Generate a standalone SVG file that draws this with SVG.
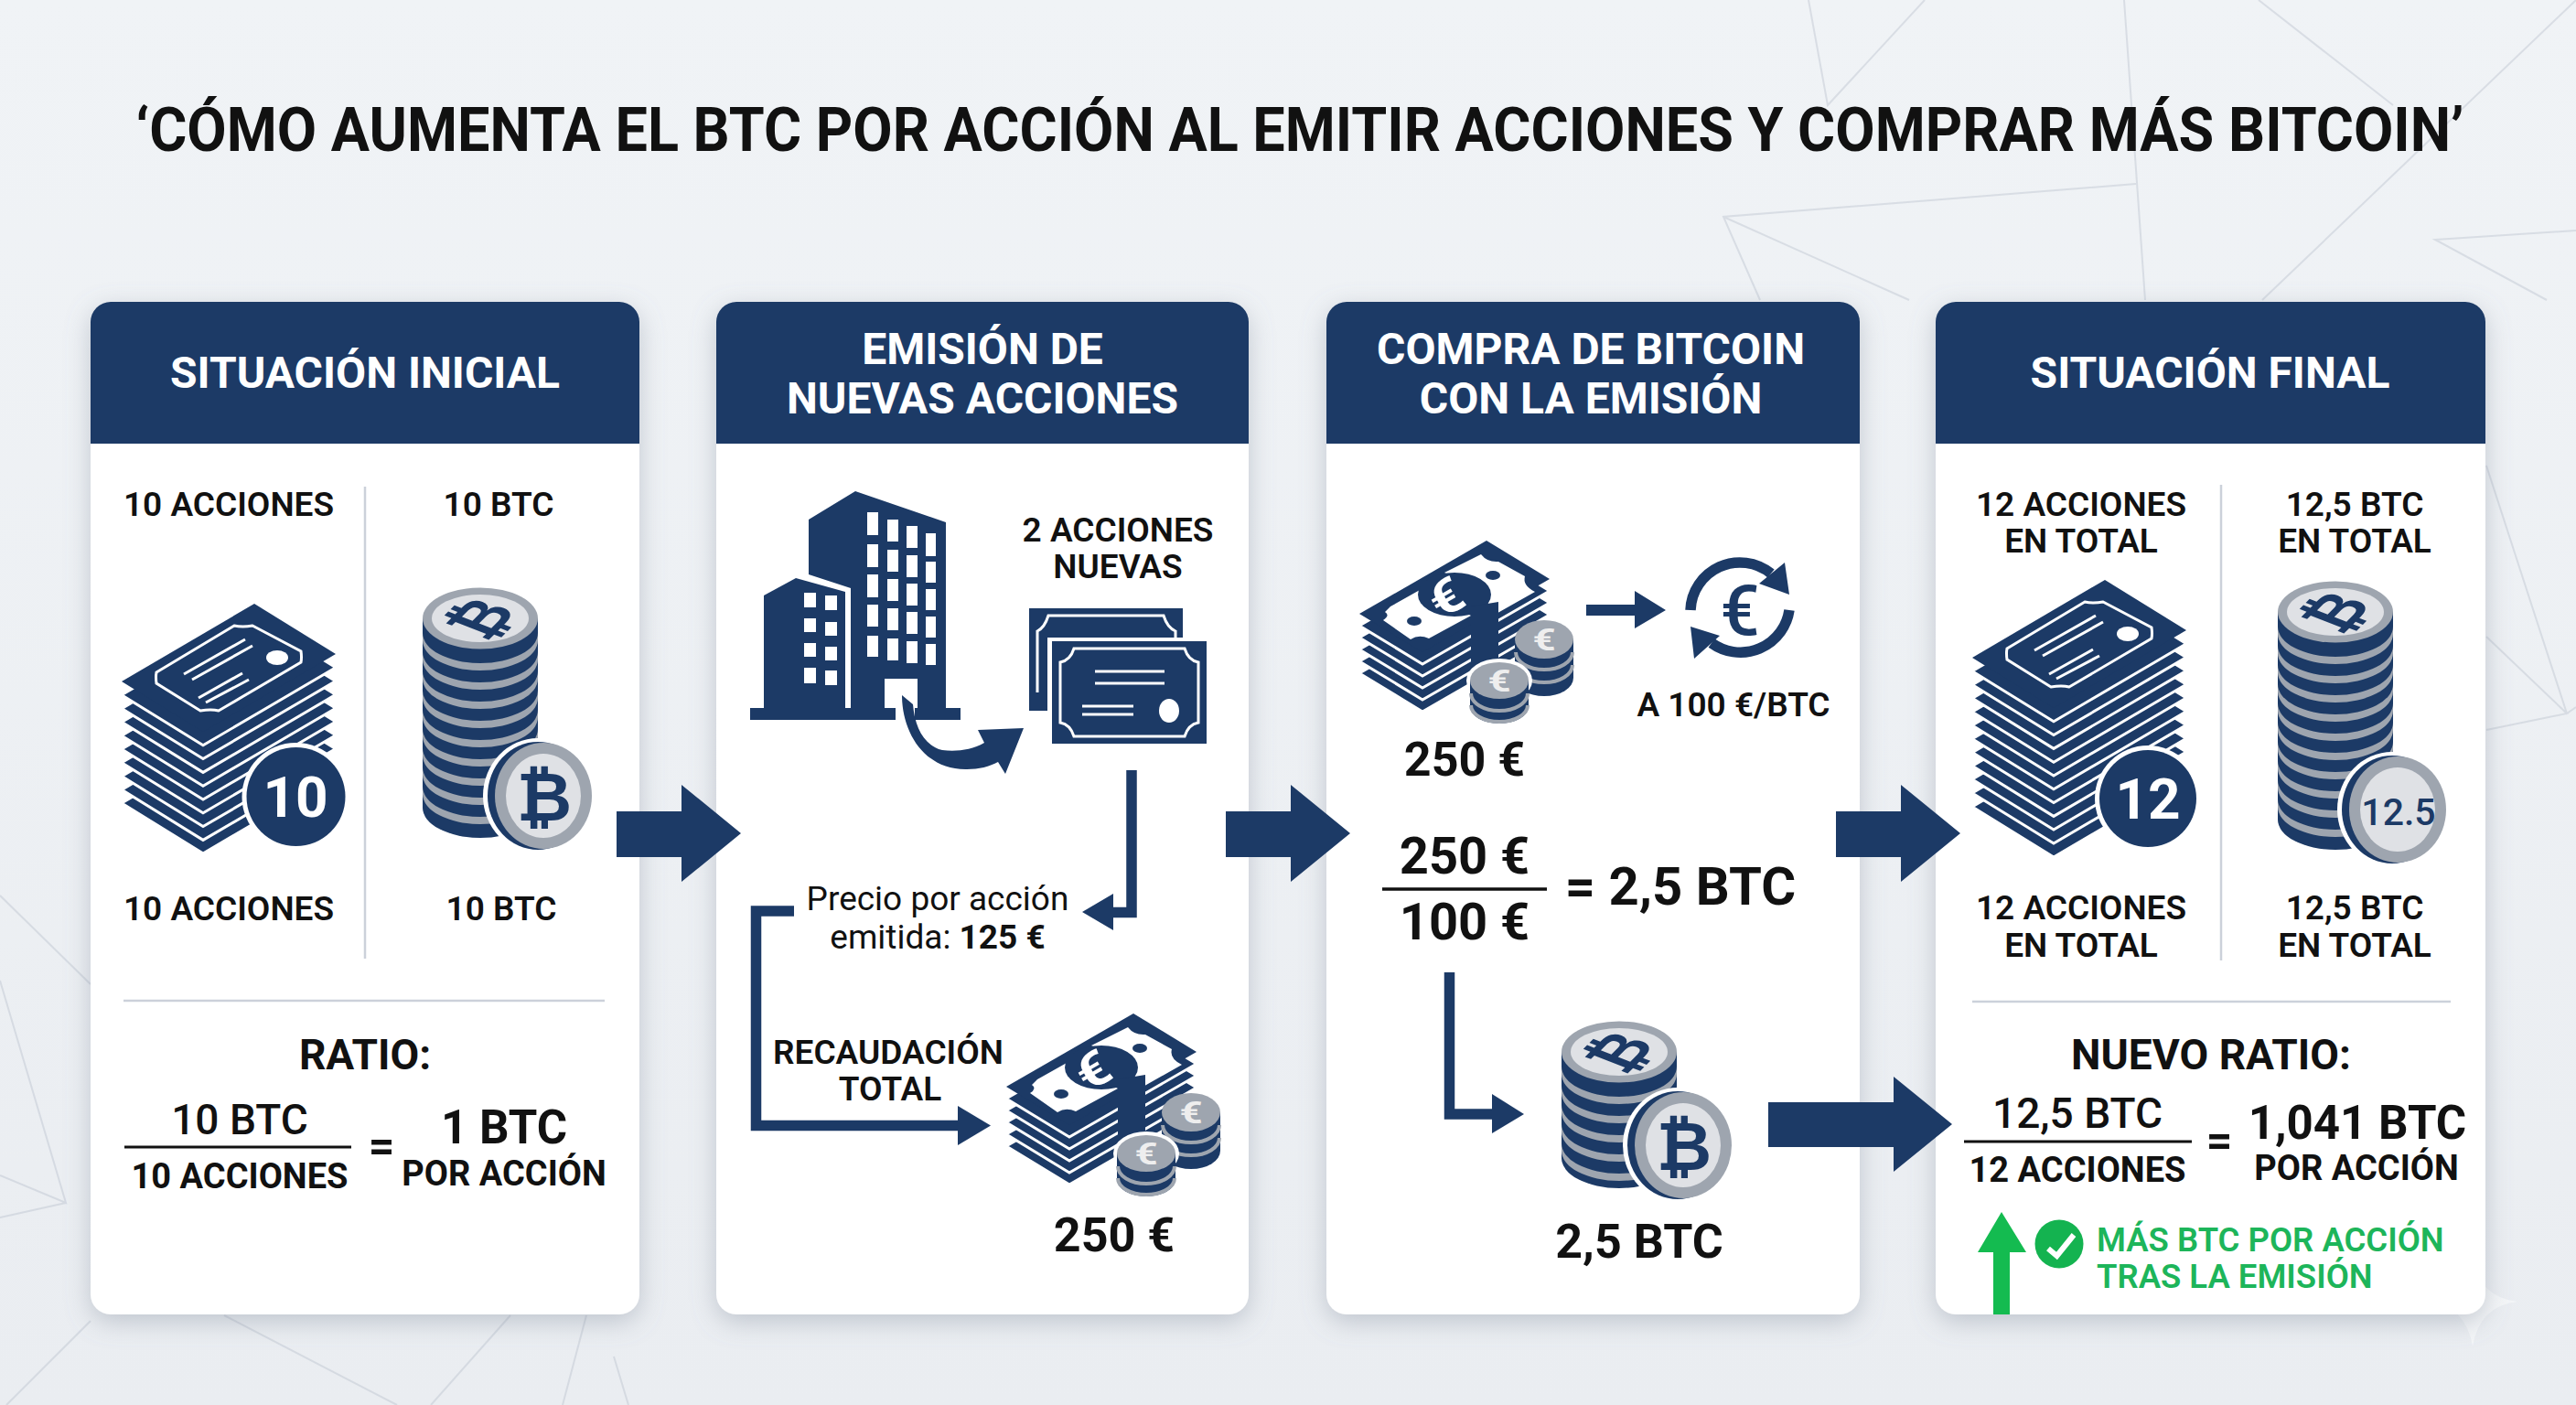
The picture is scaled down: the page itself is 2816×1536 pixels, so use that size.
<svg xmlns="http://www.w3.org/2000/svg" xmlns:xlink="http://www.w3.org/1999/xlink" width="2816" height="1536" viewBox="0 0 2816 1536" font-weight="700">
<style>
text{font-family:Roboto,"Liberation Sans",sans-serif;fill:#111;text-anchor:middle}
.hd{fill:#fff;font-size:48px;font-weight:700}
.lb{font-size:37px;font-weight:600}
.n{fill:#1c3a66}
.w{fill:#fff}
.sheet{fill:#1c3a66;stroke:#fff;stroke-width:3}
.gl{stroke:#b3bbc7;stroke-width:2;fill:none}
.div{stroke:#ccd1da;stroke-width:2.5}
.arc{fill:#9ea5af}
.wl{stroke:#fff;fill:none;stroke-width:3}
.ln{stroke:#1c3a66;fill:none;stroke-width:11.5}
.btc{font-family:"DejaVu Sans",sans-serif;fill:#1c3a66;font-weight:700}
.green{fill:#1db55a;text-anchor:start;font-size:36.5px;font-weight:600}
</style>
<defs>
<linearGradient id="bgg" x1="0" y1="0" x2="0" y2="1"><stop offset="0" stop-color="#f0f3f6"/><stop offset="1" stop-color="#eaedf1"/></linearGradient>
<filter id="sh" x="-10%" y="-5%" width="120%" height="112%"><feDropShadow dx="0" dy="8" stdDeviation="14" flood-color="#7d8797" flood-opacity=".4"/></filter>
<polygon id="sheet" class="sheet" points="133,745 278,660 367,715 222,800"/>
<g id="certtop">
<polygon class="n" points="133,745 278,660 367,715 222,800"/>
<path class="wl" d="M171,735L256,684Q265,686 276,684L329,712Q330,719 329,724L239,777Q231,775 219,777L171,747Q170,740 171,735Z"/>
<path class="wl" d="M201,737L268,699M210,743L276,706M217,763L265,736M225,768L272,743"/>
<ellipse class="w" cx="303" cy="719" rx="12" ry="8"/>
</g>
<g id="coinfront">
<ellipse class="w" cx="-2" cy="0" rx="60" ry="63"/>
<ellipse class="n" cx="-2" cy="0" rx="55" ry="59"/>
<ellipse cx="4" cy="0" rx="53" ry="58" fill="#9ea5af"/>
<ellipse cx="4" cy="0" rx="41" ry="46" fill="#dfe1e5"/>
</g>
<path id="arc" class="arc" d="M-63 -4a63 33 0 0 0 126 0v8a63 33 0 0 1 -126 0Z"/>
<ellipse id="cointop" cx="0" cy="0" rx="63" ry="33.5" fill="#9ea5af"/>
<ellipse id="cointopin" cx="0" cy="0" rx="53" ry="26" fill="#dfe1e5"/>
<polygon id="bill" class="sheet" points="1100,1188 1239,1108 1308,1150 1169,1230"/>
<g id="cash">
<use xlink:href="#bill" y="65"/><use xlink:href="#bill" y="52"/><use xlink:href="#bill" y="39"/><use xlink:href="#bill" y="26"/><use xlink:href="#bill" y="13"/>
<polygon class="n" points="1100,1188 1239,1108 1308,1150 1169,1230"/>
<path class="w" d="M1134,1180L1166,1162L1222,1190L1176,1215Q1165,1210 1156,1216L1126,1195Q1134,1190 1128,1186Z"/>
<path class="w" d="M1193,1143L1233,1123Q1240,1132 1252,1131L1281,1147Q1278,1157 1292,1164L1246,1190Q1238,1165 1220,1155Z"/>
<ellipse class="n" cx="1160" cy="1196" rx="8" ry="5"/><ellipse class="n" cx="1246" cy="1146" rx="8" ry="5"/>
<ellipse class="n" cx="1204" cy="1167" rx="40" ry="24"/>
<polygon class="n" points="1222,1180 1252,1175 1252,1245 1222,1262"/>
<text transform="translate(1204,1186) rotate(-30) scale(1,.85)" font-size="62" style="fill:#fff">€</text>
<g transform="translate(1302,1216)"><path class="n" d="M-32 0V42a32 20 0 0 0 64 0V0Z"/><path d="M-31 14a31 19 0 0 0 62 0M-31 28a31 19 0 0 0 62 0" fill="none" stroke="#9ea5af" stroke-width="4"/><ellipse rx="32" ry="21" fill="#9ea5af"/><text transform="translate(0,12) scale(1,.75)" font-size="44" style="fill:#eee">€</text></g>
<g transform="translate(1253,1261)"><ellipse rx="36" ry="24" class="w"/><path class="n" d="M-32 0V28a32 19 0 0 0 64 0V0Z"/><path d="M-31 14a31 19 0 0 0 62 0M-31 27a31 18 0 0 0 62 0" fill="none" stroke="#9ea5af" stroke-width="4"/><ellipse rx="32" ry="20" fill="#9ea5af"/><text transform="translate(0,12) scale(1,.75)" font-size="44" style="fill:#eee">€</text></g>
</g>
<polygon id="bigarrow" class="n" points="674,887 745,887 745,858 810,911 745,964 745,937 674,937"/>
</defs>

<g id="background">
<rect width="2816" height="1536" fill="url(#bgg)"/>
<path class="gl" opacity=".38" d="M1977,0L1998,115L2104,0M2322,0L2345,328M2469,0L2616,115M2816,0L2473,328M2335,201L1884,237L1924,328M1884,237L2087,328M2816,252L2662,262L2784,328M0,979L99,1076M0,1072L72,1315L0,1285M72,1315L0,1331M99,1444L7,1536M245,1438L434,1536M558,1438L471,1536M641,1438L615,1536M671,1483L687,1536M2718,509L2806,780L2816,773M2718,696L2806,780L2718,798"/>
<path fill="#fff" opacity=".45" d="M2703,1375Q2710,1418 2752,1423Q2710,1428 2703,1472Q2696,1428 2654,1423Q2696,1418 2703,1375Z"/>
</g>

<text id="title" x="1421" y="165" font-size="66" textLength="2545" lengthAdjust="spacingAndGlyphs">‘CÓMO AUMENTA EL BTC POR ACCIÓN AL EMITIR ACCIONES Y COMPRAR MÁS BITCOIN’</text>

<g id="card-situacion-inicial">
<rect x="99" y="330" width="600" height="1107" rx="22" class="w" filter="url(#sh)"/>
<path class="n" d="M99 485V352a22 22 0 0 1 22-22H677a22 22 0 0 1 22 22V485Z"/>
<text class="hd" x="399" y="424">SITUACIÓN INICIAL</text>
<path class="div" d="M399 532V1048M135 1094H661"/>
<text class="lb" x="250" y="564">10 ACCIONES</text>
<text class="lb" x="545" y="564">10 BTC</text>
<g id="stack-10"><use xlink:href="#sheet" y="133"/><use xlink:href="#sheet" y="118.4"/><use xlink:href="#sheet" y="103.6"/><use xlink:href="#sheet" y="88.8"/><use xlink:href="#sheet" y="74"/><use xlink:href="#sheet" y="59.2"/><use xlink:href="#sheet" y="44.4"/><use xlink:href="#sheet" y="29.6"/><use xlink:href="#sheet" y="14.8"/><use xlink:href="#certtop"/></g>
<circle cx="323.5" cy="871" r="59" class="w"/><circle cx="323.5" cy="871" r="54" class="n"/>
<text x="323" y="893" font-size="62" style="fill:#fff">10</text>
<g transform="translate(525,676)">
<path class="n" d="M-63 0V207a63 33 0 0 0 126 0V0Z"/>
<use xlink:href="#arc" y="20"/><use xlink:href="#arc" y="41"/><use xlink:href="#arc" y="62"/><use xlink:href="#arc" y="83"/><use xlink:href="#arc" y="104"/><use xlink:href="#arc" y="125"/><use xlink:href="#arc" y="146"/><use xlink:href="#arc" y="167"/><use xlink:href="#arc" y="188"/>
<use xlink:href="#cointop"/><use xlink:href="#cointopin"/>
<text class="btc" transform="scale(1,.62) rotate(-58) translate(0,28)" font-size="80">₿</text>
</g>
<use xlink:href="#coinfront" x="590" y="870"/>
<text class="btc" x="595" y="897" font-size="74">₿</text>
<text class="lb" x="250" y="1006">10 ACCIONES</text>
<text class="lb" x="548" y="1006">10 BTC</text>
<text x="399" y="1169" font-size="46">RATIO:</text>
<text x="262" y="1240" font-size="46" font-weight="500">10 BTC</text>
<path d="M136 1254H384" stroke="#111" stroke-width="3"/>
<text x="262" y="1299" font-size="38">10 ACCIONES</text>
<text x="417" y="1270" font-size="50">=</text>
<text x="551" y="1250" font-size="51">1 BTC</text>
<text x="551" y="1296" font-size="38">POR ACCIÓN</text>
</g>

<g id="card-emision">
<rect x="783" y="330" width="582" height="1107" rx="22" class="w" filter="url(#sh)"/>
<path class="n" d="M783 485V352a22 22 0 0 1 22-22H1343a22 22 0 0 1 22 22V485Z"/>
<text class="hd" x="1074" y="398">EMISIÓN DE</text>
<text class="hd" x="1074" y="452">NUEVAS ACCIONES</text>
<g id="building">
<path class="n" d="M884,568L935,537L1034,571V774H1003V742H967V774H930V643L884,628Z"/>
<path class="n" d="M835,651L870,632L924,647V774H835Z"/>
<path class="n" d="M820 774H979V787H820ZM1000 774H1050V787H1000Z"/>
<path class="w" d="M948 560h12v25h-12zM948 595h12v25h-12zM948 628h12v25h-12zM948 661h12v24h-12zM948 695h12v23h-12zM970 568h12v24h-12zM970 601h12v24h-12zM970 633h12v24h-12zM970 665h12v24h-12zM970 698h12v24h-12zM991 575h12v24h-12zM991 607h12v24h-12zM991 638h12v24h-12zM991 669h12v24h-12zM991 701h12v24h-12zM1012 583h11v25h-11zM1012 614h11v23h-11zM1012 644h11v23h-11zM1012 674h11v23h-11zM1012 704h11v23h-11z"/>
<path class="w" d="M879 648h13v16h-13zM902 651h13v16h-13zM879 676h13v15h-13zM902 680h13v15h-13zM879 703h13v15h-13zM902 707h13v15h-13zM879 730h13v17h-13zM902 733h13v16h-13z"/>
<path class="n" d="M986,760C986,800 1010,842 1057,841C1070,841 1082,838 1091,833L1099,846L1119,796L1069,798L1076,812C1062,820 1045,822 1030,820C1010,815 1000,795 998,770Z"/>
</g>
<text class="lb" x="1222" y="592">2 ACCIONES</text>
<text class="lb" x="1222" y="632">NUEVAS</text>
<g id="certificates">
<rect x="1125" y="665" width="168" height="112" class="n"/>
<path class="wl" d="M1134 757V690Q1142 686 1146 673H1272Q1276 686 1285 690V700"/>
<path class="w" d="M1145 697H1319V701H1150V813H1145Z"/>
<rect x="1150" y="701" width="169" height="112" class="n"/>
<path class="wl" d="M1159 724Q1170 722 1174 709H1295Q1299 722 1310 724V790Q1299 792 1295 805H1174Q1170 792 1159 790Z"/>
<path class="wl" d="M1197 734H1273M1197 747H1273M1183 772H1239M1183 781H1239" stroke-width="4"/>
<ellipse class="w" cx="1278" cy="777" rx="11" ry="13"/>
</g>
<text x="1025" y="995" font-size="37" font-weight="400">Precio por acción</text>
<text x="1025" y="1037" font-size="37" font-weight="400">emitida: <tspan font-weight="700">125 €</tspan></text>
<text class="lb" x="971" y="1163">RECAUDACIÓN</text>
<text class="lb" x="973" y="1203">TOTAL</text>
<use xlink:href="#cash"/>
<text x="1218" y="1368" font-size="52">250 €</text>
</g>

<g id="card-compra">
<rect x="1450" y="330" width="583" height="1107" rx="22" class="w" filter="url(#sh)"/>
<path class="n" d="M1450 485V352a22 22 0 0 1 22-22H2011a22 22 0 0 1 22 22V485Z"/>
<text class="hd" x="1739" y="398">COMPRA DE BITCOIN</text>
<text class="hd" x="1739" y="452">CON LA EMISIÓN</text>
<use xlink:href="#cash" transform="translate(386,-517)"/>
<text x="1601" y="848" font-size="52">250 €</text>
<g id="euro-exchange">
<path class="n" d="M1734 661H1787V646L1821 667L1787 687V673H1734Z"/>
<path d="M1848 667A54 54 0 0 1 1936 627M1956 667A54 54 0 0 1 1871 703" class="ln"/>
<path class="n" d="M1951 615L1956 650L1923 638ZM1848 685L1852 720L1880 695Z"/>
<text x="1902" y="694" font-size="76" font-weight="500" style="fill:#1c3a66">€</text>
</g>
<text x="1895" y="783" font-size="37" style="font-weight:600">A 100 €/BTC</text>
<text x="1601" y="955" font-size="56">250 €</text>
<path d="M1511 972H1691" stroke="#111" stroke-width="3.5"/>
<text x="1601" y="1027" font-size="56">100 €</text>
<text x="1837" y="989" font-size="58">= 2,5 BTC</text>
<g transform="translate(1770,1150)">
<path class="n" d="M-63 0V116a63 33 0 0 0 126 0V0Z"/>
<use xlink:href="#arc" y="20"/><use xlink:href="#arc" y="41"/><use xlink:href="#arc" y="62"/><use xlink:href="#arc" y="83"/><use xlink:href="#arc" y="104"/>
<use xlink:href="#cointop"/><use xlink:href="#cointopin"/>
<text class="btc" transform="scale(1,.62) rotate(-58) translate(0,28)" font-size="80">₿</text>
</g>
<use xlink:href="#coinfront" x="1836" y="1252"/>
<text class="btc" x="1841" y="1279" font-size="74">₿</text>
<text x="1792" y="1375" font-size="52">2,5 BTC</text>
</g>

<g id="card-situacion-final">
<rect x="2116" y="330" width="601" height="1107" rx="22" class="w" filter="url(#sh)"/>
<path class="n" d="M2116 485V352a22 22 0 0 1 22-22H2695a22 22 0 0 1 22 22V485Z"/>
<text class="hd" x="2416" y="424">SITUACIÓN FINAL</text>
<path class="div" d="M2428 530V1050M2156 1095H2679"/>
<text class="lb" x="2275" y="564">12 ACCIONES</text>
<text class="lb" x="2275" y="604">EN TOTAL</text>
<text class="lb" x="2574" y="564">12,5 BTC</text>
<text class="lb" x="2574" y="604">EN TOTAL</text>
<g id="stack-12" transform="translate(2023,-26)"><use xlink:href="#sheet" y="163"/><use xlink:href="#sheet" y="148"/><use xlink:href="#sheet" y="133"/><use xlink:href="#sheet" y="118.4"/><use xlink:href="#sheet" y="103.6"/><use xlink:href="#sheet" y="88.8"/><use xlink:href="#sheet" y="74"/><use xlink:href="#sheet" y="59.2"/><use xlink:href="#sheet" y="44.4"/><use xlink:href="#sheet" y="29.6"/><use xlink:href="#sheet" y="14.8"/><use xlink:href="#certtop"/></g>
<circle cx="2348" cy="873" r="58" class="w"/><circle cx="2348" cy="873" r="53" class="n"/>
<text x="2348" y="895" font-size="62" style="fill:#fff">12</text>
<g transform="translate(2553,669)">
<path class="n" d="M-63 0V227a63 33 0 0 0 126 0V0Z"/>
<use xlink:href="#arc" y="20"/><use xlink:href="#arc" y="41"/><use xlink:href="#arc" y="62"/><use xlink:href="#arc" y="83"/><use xlink:href="#arc" y="104"/><use xlink:href="#arc" y="125"/><use xlink:href="#arc" y="146"/><use xlink:href="#arc" y="167"/><use xlink:href="#arc" y="188"/><use xlink:href="#arc" y="209"/>
<use xlink:href="#cointop"/><use xlink:href="#cointopin"/>
<text class="btc" transform="scale(1,.62) rotate(-58) translate(0,28)" font-size="80">₿</text>
</g>
<use xlink:href="#coinfront" x="2617" y="885"/>
<text x="2622" y="902" font-size="41" font-weight="500" style="fill:#1c3a66">12.5</text>
<text class="lb" x="2275" y="1005">12 ACCIONES</text>
<text class="lb" x="2275" y="1046">EN TOTAL</text>
<text class="lb" x="2574" y="1005">12,5 BTC</text>
<text class="lb" x="2574" y="1046">EN TOTAL</text>
<text x="2417" y="1169" font-size="46">NUEVO RATIO:</text>
<text x="2271" y="1233" font-size="46" font-weight="500">12,5 BTC</text>
<path d="M2147 1248H2396" stroke="#111" stroke-width="3"/>
<text x="2271" y="1292" font-size="38">12 ACCIONES</text>
<text x="2426" y="1264" font-size="50">=</text>
<text x="2577" y="1245" font-size="51">1,041 BTC</text>
<text x="2576" y="1290" font-size="38">POR ACCIÓN</text>
<polygon fill="#14bb50" points="2188,1325 2215,1369 2197,1369 2197,1437 2179,1437 2179,1369 2162,1369"/>
<circle cx="2251" cy="1360" r="26.5" fill="#14b350"/>
<path d="M2239 1365L2248.5 1373L2267 1350" fill="none" stroke="#fff" stroke-width="6"/>
<text class="green" x="2292" y="1368">MÁS BTC POR ACCIÓN</text>
<text class="green" x="2292" y="1408">TRAS LA EMISIÓN</text>
</g>

<g id="connectors">
<use xlink:href="#bigarrow"/>
<use xlink:href="#bigarrow" x="666"/>
<use xlink:href="#bigarrow" x="1333"/>
<polygon class="n" points="1933,1205 2070,1205 2070,1177 2134,1229 2070,1281 2070,1254 1933,1254"/>
<path class="ln" d="M1237 842V997.5H1210"/>
<polygon class="n" points="1217,977 1217,1017 1183,997"/>
<path class="ln" d="M868 996H826.5V1230.5H1050"/>
<polygon class="n" points="1047,1209 1047,1252 1083,1230.5"/>
<path class="ln" d="M1584.5 1063V1218H1635"/>
<polygon class="n" points="1631,1196 1631,1239 1666,1218"/>
</g>
</svg>
